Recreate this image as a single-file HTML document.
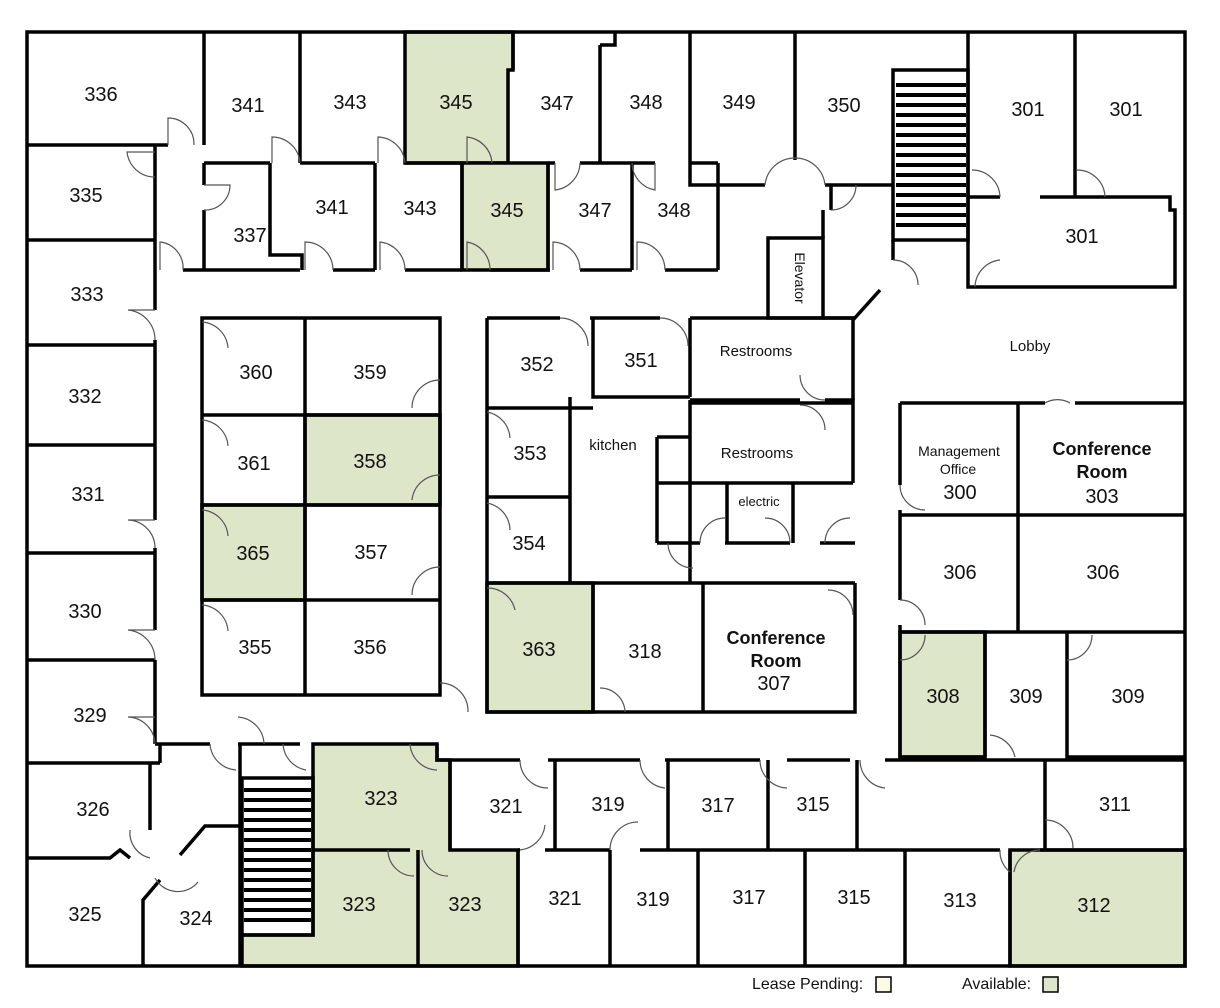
<!DOCTYPE html>
<html><head><meta charset="utf-8"><style>
html,body{margin:0;padding:0;background:#fff;}
svg{display:block;}
text{font-family:"Liberation Sans",sans-serif;fill:#111;}
.n{font-size:20px;text-anchor:middle;}
.s{font-size:15px;text-anchor:middle;}
.w{fill:none;stroke:#000;stroke-width:3.5;}
.g{fill:#dde6c8;stroke:#000;stroke-width:3.5;}
.st{stroke:#000;stroke-width:4;}
.d{fill:none;stroke:#555;stroke-width:1.2;}
</style></head><body>
<svg width="1220" height="1008" viewBox="0 0 1220 1008">
<polygon class="g" points="405,32 513,32 513,70 508,70 508,163 405,163"/>
<rect class="g" x="462" y="163" width="86" height="107"/>
<rect class="g" x="305" y="415" width="135" height="90"/>
<rect class="g" x="202" y="505" width="103" height="95"/>
<rect class="g" x="487" y="583" width="106" height="129"/>
<rect class="g" x="900" y="632" width="85" height="125"/>
<rect class="g" x="1010" y="850" width="175" height="116"/>
<polygon class="g" points="313,744 437,744 437,760 450,760 450,850 518,850 518,966 242,966 242,935 313,935"/>
<line class="w" x1="418" y1="850" x2="418" y2="966"/>
<line class="w" x1="313" y1="850" x2="410" y2="850"/>
<rect class="w" x="27" y="32" width="1158" height="934"/>
<path class="w" d="M27,145 H168 M204,32 V145 M204,163 V185 M204,210 V270 M155,145 V310 M155,340 V520 M155,548 V630 M155,660 V744"/>
<path class="w" d="M27,240 H155 M27,345 H155 M27,445 H155 M27,553 H155 M27,660 H155 M27,763 H160 M160,744 V763 M155,744 H210 M238,744 H300"/>
<path class="w" d="M204,163 H270 M300,163 H375 M405,163 H462 M548,163 H555 M580,163 H655"/>
<path class="w" d="M270,163 V255 H302 V270 M375,163 V270 M462,163 V270 M548,163 V270 M632,163 V270 M718,163 V270 M300,32 V163"/>
<path class="w" d="M183,270 H300 M333,270 H375 M405,270 H462 M490,270 H550 M580,270 H632 M665,270 H718"/>
<path class="w" d="M513,32 V70 M600,45 H615 V32 M600,45 V163 M690,32 V185 H765 M795,32 V160 M825,185 H893 M690,163 H718"/>
<rect class="w" x="893" y="70" width="75" height="170"/>
<g class="st">
<line x1="896" y1="85" x2="966" y2="85"/><line x1="896" y1="95" x2="966" y2="95"/><line x1="896" y1="105" x2="966" y2="105"/><line x1="896" y1="115" x2="966" y2="115"/><line x1="896" y1="125" x2="966" y2="125"/><line x1="896" y1="135" x2="966" y2="135"/><line x1="896" y1="145" x2="966" y2="145"/><line x1="896" y1="155" x2="966" y2="155"/><line x1="896" y1="165" x2="966" y2="165"/><line x1="896" y1="175" x2="966" y2="175"/><line x1="896" y1="185" x2="966" y2="185"/><line x1="896" y1="195" x2="966" y2="195"/><line x1="896" y1="205" x2="966" y2="205"/><line x1="896" y1="215" x2="966" y2="215"/><line x1="896" y1="225" x2="966" y2="225"/>
</g>
<path class="w" d="M893,240 V260 M968,32 V287 H1175 V210 H1170 V197 H1040 M1000,197 H968 M1075,32 V197"/>
<rect class="w" x="768" y="238" width="55" height="80"/>
<path class="w" d="M831,185 V210 M823,238 V210 M823,318 H853 V320 M853,320 L880,290"/>
<rect class="w" x="202" y="318" width="238" height="377"/>
<path class="w" d="M305,318 V695 M202,415 H440 M202,505 H440 M202,600 H440"/>
<path class="w" d="M487,318 H560 M590,318 H660 M690,318 H853 V400 M487,318 V712 H855 V583"/>
<path class="w" d="M593,318 V397 H690 M487,408 H593 M570,397 V583 M487,497 H570 M487,583 H855 M593,583 V712 M703,583 V712 M690,318 V397 M690,400 V583"/>
<path class="w" d="M690,400 H800 M825,400 H853 V483 M690,403 H853 M690,483 H853 M657,437 H690 M657,437 V543 M657,483 H853 M657,543 H700 M725,543 H790 M727,483 V543 M793,483 V543 M820,543 H855"/>
<path class="w" d="M900,403 V485 M900,510 V600 M900,625 V757 H985 M900,403 H1045 M1075,403 H1185 M1018,403 V632 M900,515 H1185 M900,632 H1185 M985,632 V757 M1067,632 V757 H1185"/>
<path class="w" d="M437,744 V760 H520 M548,760 H640 M665,760 H760 M787,760 H850 M885,760 H1045 M1045,760 V850 M1045,760 H1185"/>
<path class="w" d="M450,760 V850 M555,760 V850 M668,760 V850 M768,760 V850 M857,760 V850"/>
<path class="w" d="M518,850 H520 M545,850 H610 M640,850 H1000 M1040,850 H1185 M1010,850 V966 M610,850 V966 M698,850 V966 M805,850 V966 M905,850 V966 M518,850 V966"/>
<path class="w" d="M240,744 V966 M150,763 V830 M27,858 H110 L120,850 L130,858 M143,966 V900 L160,880 M180,855 L205,826 H240"/>
<rect class="w" x="242" y="778" width="71" height="157"/>
<g class="st">
<line x1="244" y1="790" x2="311" y2="790"/><line x1="244" y1="800" x2="311" y2="800"/><line x1="244" y1="810" x2="311" y2="810"/><line x1="244" y1="820" x2="311" y2="820"/><line x1="244" y1="830" x2="311" y2="830"/><line x1="244" y1="840" x2="311" y2="840"/><line x1="244" y1="850" x2="311" y2="850"/><line x1="244" y1="860" x2="311" y2="860"/><line x1="244" y1="870" x2="311" y2="870"/><line x1="244" y1="880" x2="311" y2="880"/><line x1="244" y1="890" x2="311" y2="890"/><line x1="244" y1="900" x2="311" y2="900"/><line x1="244" y1="910" x2="311" y2="910"/><line x1="244" y1="920" x2="311" y2="920"/>
</g>
<!-- door arcs -->
<g class="d">
<path d="M305,270 V242 A28 28 0 0 1 333,270"/>
<path d="M380,270 V242 A28 28 0 0 1 405,270"/>
<path d="M467,270 V242 A28 28 0 0 1 490,270"/>
<path d="M553,270 V242 A28 28 0 0 1 580,270"/>
<path d="M637,270 V242 A28 28 0 0 1 665,270"/>
<path d="M160,270 V242 A26 26 0 0 1 183,270"/>
<path d="M272,163 V137 A28 28 0 0 1 300,163"/>
<path d="M378,163 V137 A28 28 0 0 1 405,163"/>
<path d="M467,163 V137 A28 28 0 0 1 492,163"/>
<path d="M555,163 V190 A28 28 0 0 0 580,163"/>
<path d="M655,163 V190 A28 28 0 0 1 632,163"/>
<path d="M168,145 V118 A26 26 0 0 1 194,145"/>
<path d="M155,152 H127 A28 28 0 0 0 155,177"/>
<path d="M204,185 H230 A25 25 0 0 1 204,210"/>
<path d="M155,310 H128 A30 30 0 0 1 155,340"/>
<path d="M155,520 H128 A28 28 0 0 1 155,548"/>
<path d="M155,630 H128 A30 30 0 0 1 155,660"/>
<path d="M155,717 H128 A28 28 0 0 1 155,744"/>
<path d="M238,717 A28 28 0 0 1 264,744"/>
<path d="M210,744 A28 28 0 0 0 236,770"/>
<path d="M283,744 A28 28 0 0 0 306,770"/>
<path d="M765,185 A30 30 0 0 1 795,158"/>
<path d="M795,158 A30 30 0 0 1 825,185"/>
<path d="M831,210 A25 25 0 0 0 856,185"/>
<path d="M893,260 A25 25 0 0 1 918,285"/>
<path d="M1000,197 A28 28 0 0 0 972,170"/>
<path d="M1105,197 A28 28 0 0 0 1077,170"/>
<path d="M975,287 A28 28 0 0 1 1000,260"/>
<path d="M1045,403 A25 25 0 0 1 1070,403"/>
<path d="M900,485 A25 25 0 0 0 925,510"/>
<path d="M900,600 A25 25 0 0 1 925,625"/>
<path d="M900,660 A25 25 0 0 0 925,635"/>
<path d="M1067,660 A25 25 0 0 0 1092,635"/>
<path d="M1015,757 A28 28 0 0 0 990,735"/>
<path d="M440,380 A28 28 0 0 0 412,408"/>
<path d="M440,475 A28 28 0 0 0 412,500"/>
<path d="M440,567 A28 28 0 0 0 412,595"/>
<path d="M440,683 A28 28 0 0 1 468,712"/>
<path d="M487,412 A28 28 0 0 1 510,438"/>
<path d="M487,503 A28 28 0 0 1 510,530"/>
<path d="M487,588 A28 28 0 0 1 515,610"/>
<path d="M202,322 A28 28 0 0 1 228,348"/>
<path d="M202,420 A28 28 0 0 1 228,446"/>
<path d="M202,510 A28 28 0 0 1 228,536"/>
<path d="M202,605 A28 28 0 0 1 228,631"/>
<path d="M560,318 A28 28 0 0 1 588,346"/>
<path d="M660,318 A28 28 0 0 1 688,346"/>
<path d="M800,375 A25 25 0 0 0 825,400"/>
<path d="M800,405 A25 25 0 0 1 825,430"/>
<path d="M700,543 A25 25 0 0 1 725,518"/>
<path d="M790,543 A25 25 0 0 0 765,518"/>
<path d="M825,543 A25 25 0 0 1 850,518"/>
<path d="M668,543 A25 25 0 0 0 693,568"/>
<path d="M828,590 A25 25 0 0 1 853,615"/>
<path d="M600,688 A25 25 0 0 1 625,712"/>
<path d="M520,760 A28 28 0 0 0 548,788"/>
<path d="M640,760 A28 28 0 0 0 665,788"/>
<path d="M760,760 A28 28 0 0 0 787,788"/>
<path d="M860,760 A28 28 0 0 0 885,788"/>
<path d="M410,744 A28 28 0 0 0 437,770"/>
<path d="M520,850 A28 28 0 0 0 545,825"/>
<path d="M610,850 A28 28 0 0 1 638,822"/>
<path d="M1045,820 A28 28 0 0 1 1073,848"/>
<path d="M388,850 A26 26 0 0 0 414,876"/>
<path d="M422,850 A26 26 0 0 0 448,876"/>
<path d="M1000,850 A26 26 0 0 0 1010,872"/>
<path d="M1040,850 A26 26 0 0 0 1014,872"/>
<path d="M130,830 A26 26 0 0 0 150,858"/>
<path d="M155,878 A26 26 0 0 0 198,882"/>
</g>
<g class="n">
<text x="101" y="101">336</text><text x="248" y="112">341</text><text x="350" y="109">343</text><text x="456" y="109">345</text><text x="557" y="110">347</text><text x="646" y="109">348</text><text x="739" y="109">349</text><text x="844" y="112">350</text><text x="1028" y="116">301</text><text x="1126" y="116">301</text>
<text x="86" y="202">335</text><text x="250" y="242">337</text><text x="332" y="214">341</text><text x="420" y="215">343</text><text x="507" y="217">345</text><text x="595" y="217">347</text><text x="674" y="217">348</text><text x="1082" y="243">301</text>
<text x="87" y="301">333</text><text x="85" y="403">332</text><text x="88" y="501">331</text><text x="85" y="618">330</text><text x="90" y="722">329</text><text x="93" y="816">326</text><text x="85" y="921">325</text><text x="196" y="925">324</text>
<text x="256" y="379">360</text><text x="370" y="379">359</text><text x="254" y="470">361</text><text x="370" y="468">358</text><text x="253" y="560">365</text><text x="371" y="559">357</text><text x="255" y="654">355</text><text x="370" y="654">356</text>
<text x="537" y="371">352</text><text x="641" y="367">351</text><text x="530" y="460">353</text><text x="529" y="550">354</text><text x="539" y="656">363</text><text x="645" y="658">318</text>
<text x="960" y="579">306</text><text x="1103" y="579">306</text><text x="943" y="703">308</text><text x="1026" y="703">309</text><text x="1128" y="703">309</text>
<text x="381" y="805">323</text><text x="506" y="813">321</text><text x="608" y="811">319</text><text x="718" y="812">317</text><text x="813" y="811">315</text><text x="1115" y="811">311</text>
<text x="359" y="911">323</text><text x="465" y="911">323</text><text x="565" y="905">321</text><text x="653" y="906">319</text><text x="749" y="904">317</text><text x="854" y="904">315</text><text x="960" y="907">313</text><text x="1094" y="912">312</text>
<text x="960" y="499">300</text><text x="1102" y="503">303</text><text x="774" y="690">307</text>
</g>
<g class="s">
<text x="756" y="356">Restrooms</text><text x="757" y="458">Restrooms</text><text x="613" y="450">kitchen</text><text x="759" y="506" style="font-size:13px">electric</text><text x="1030" y="351">Lobby</text>
<text x="959" y="456" style="font-size:14px">Management</text><text x="958" y="474" style="font-size:14px">Office</text>
<text x="1102" y="455" style="font-size:18px;font-weight:bold">Conference</text><text x="1102" y="478" style="font-size:18px;font-weight:bold">Room</text>
<text x="776" y="644" style="font-size:18px;font-weight:bold">Conference</text><text x="776" y="667" style="font-size:18px;font-weight:bold">Room</text>
</g>
<text x="795" y="278" style="font-size:14px" text-anchor="middle" transform="rotate(90 795 278)">Elevator</text>
<text x="752" y="989" style="font-size:16px">Lease Pending:</text>
<rect x="876" y="977" width="15" height="15" fill="#fbfbe6" stroke="#000" stroke-width="1.5"/>
<text x="962" y="989" style="font-size:16px">Available:</text>
<rect x="1043" y="977" width="15" height="15" fill="#dde6c8" stroke="#000" stroke-width="1.5"/>
</svg>
</body></html>
